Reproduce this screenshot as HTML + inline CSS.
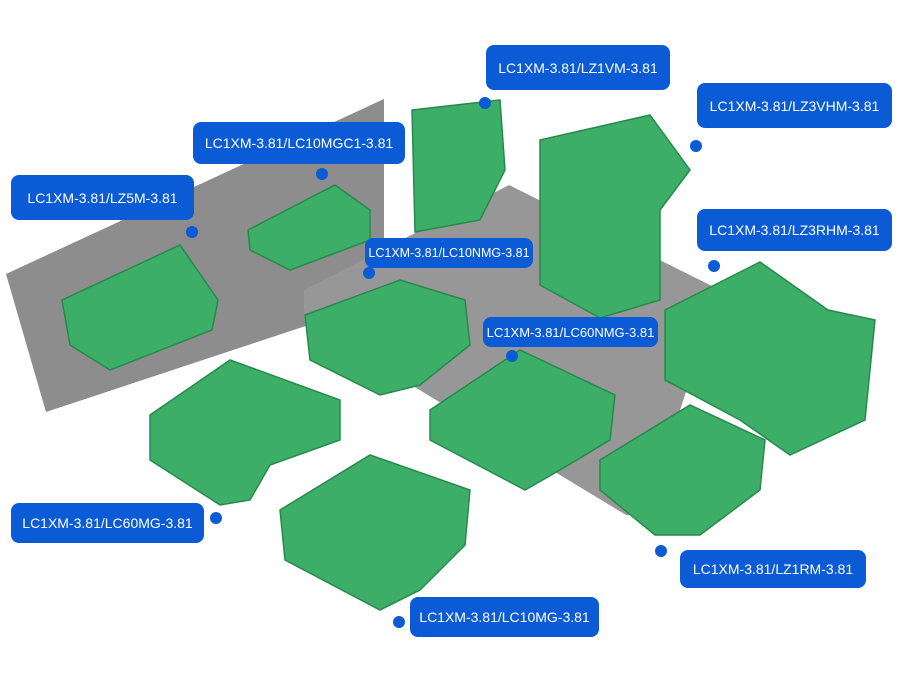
<!DOCTYPE html>
<html><head><meta charset="utf-8"><style>
body{margin:0;width:911px;height:700px;background:#fff;position:relative;overflow:hidden;font-family:"Liberation Sans",sans-serif}
.l{position:absolute;background:#0b5bd6;color:#fff;border-radius:8px;font-size:14px;line-height:1;display:flex;align-items:center;justify-content:center;white-space:nowrap}
.d{position:absolute;width:12px;height:12px;border-radius:6px;background:#0b5bd6}
svg{position:absolute;left:0;top:0}
</style></head><body>
<svg width="911" height="700">
<polygon points="6,274 384,99 384,300 46,412" fill="#8d8d8d"/>
<polygon points="304,290 509,185 720,290 645,515 626,515 304,320" fill="#979797"/>
<g fill="#3dae67" stroke="#278a4c" stroke-width="1.5">
<polygon points="62,300 180,245 218,300 212,330 110,370 70,345"/>
<polygon points="248,230 335,185 370,210 370,240 290,270 250,250"/>
<polygon points="412,110 500,100 505,170 480,220 415,232"/>
<polygon points="540,140 650,115 690,170 660,210 660,300 600,318 540,285"/>
<polygon points="305,315 400,280 465,300 470,345 420,385 380,395 310,360"/>
<polygon points="665,310 760,262 828,310 875,320 865,420 790,455 740,420 665,380"/>
<polygon points="150,415 230,360 340,400 340,440 270,465 250,500 220,505 150,460"/>
<polygon points="430,410 520,350 615,395 610,440 560,470 525,490 430,440"/>
<polygon points="600,460 690,405 765,440 760,490 700,535 655,535 600,490"/>
<polygon points="280,510 370,455 470,490 465,545 420,590 380,610 285,560"/>
</g>
</svg>
<div class="l" style="left:486px;top:45px;width:184px;height:45px">LC1XM-3.81/LZ1VM-3.81</div><div class="d" style="left:479px;top:97px"></div>
<div class="l" style="left:697px;top:83px;width:195px;height:45px">LC1XM-3.81/LZ3VHM-3.81</div><div class="d" style="left:690px;top:140px"></div>
<div class="l" style="left:193px;top:122px;width:212px;height:42px">LC1XM-3.81/LC10MGC1-3.81</div><div class="d" style="left:316px;top:168px"></div>
<div class="l" style="left:11px;top:175px;width:183px;height:45px">LC1XM-3.81/LZ5M-3.81</div><div class="d" style="left:186px;top:226px"></div>
<div class="l" style="left:697px;top:209px;width:195px;height:42px">LC1XM-3.81/LZ3RHM-3.81</div><div class="d" style="left:708px;top:260px"></div>
<div class="l" style="left:365px;top:238px;width:168px;height:30px;font-size:12.5px">LC1XM-3.81/LC10NMG-3.81</div><div class="d" style="left:363px;top:267px"></div>
<div class="l" style="left:483px;top:317px;width:175px;height:30px;font-size:13px">LC1XM-3.81/LC60NMG-3.81</div><div class="d" style="left:506px;top:350px"></div>
<div class="l" style="left:11px;top:503px;width:193px;height:40px">LC1XM-3.81/LC60MG-3.81</div><div class="d" style="left:210px;top:512px"></div>
<div class="l" style="left:680px;top:550px;width:186px;height:38px">LC1XM-3.81/LZ1RM-3.81</div><div class="d" style="left:655px;top:545px"></div>
<div class="l" style="left:410px;top:597px;width:189px;height:40px">LC1XM-3.81/LC10MG-3.81</div><div class="d" style="left:393px;top:616px"></div>
</body></html>
